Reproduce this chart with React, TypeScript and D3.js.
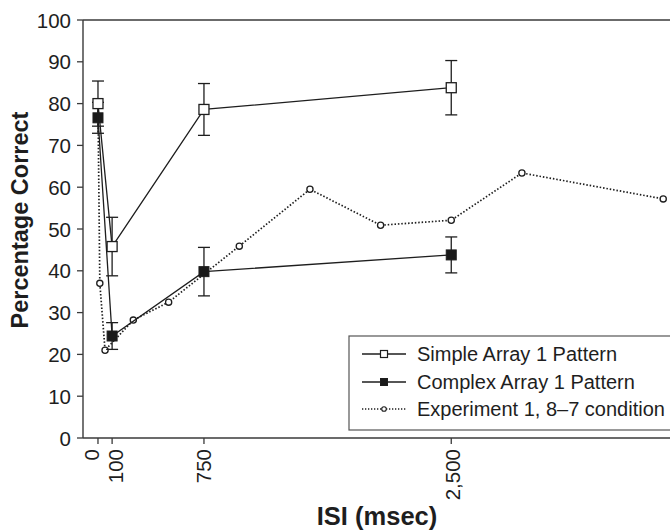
import React from "react";
import * as d3 from "d3";

const simpleISI = [0, 100, 750, 2500];
const simpleValues = [80.0, 45.8, 78.6, 83.8];
const simpleErrors = [5.4, 7.0, 6.2, 6.5];

const complexISI = [0, 100, 750, 2500];
const complexValues = [76.6, 24.4, 39.8, 43.8];
const complexErrors = [3.7, 3.2, 5.8, 4.3];

const exp1ISI = [0, 13, 50, 250, 500, 1000, 1500, 2000, 2500, 3000, 4000];
const exp1Values = [80, 37, 21, 28.2, 32.5, 45.9, 59.5, 50.9, 52.1, 63.4, 57.2];

const xTicks = [0, 100, 750, 2500];
const xTickLabels = ["0", "100", "750", "2,500"];
const yTicks = [0, 10, 20, 30, 40, 50, 60, 70, 80, 90, 100];

const legendLabels = [
  "Simple Array 1 Pattern",
  "Complex Array 1 Pattern",
  "Experiment 1, 8\u20137 condition",
];

const W = 670;
const H = 530;
const FONT = "'Liberation Sans', Arial, Helvetica, sans-serif";
const INK = "#1e1e1e";

export default function App() {
  const x = d3.scaleLinear().domain([-106, 4048]).range([83, 670]);
  const y = d3.scaleLinear().domain([0, 100]).range([438, 20]);
  const line = d3
    .line<[number, number]>()
    .x((d) => x(d[0]))
    .y((d) => y(d[1]));

  const simplePts = simpleISI.map((t, i) => [t, simpleValues[i]] as [number, number]);
  const complexPts = complexISI.map((t, i) => [t, complexValues[i]] as [number, number]);
  const exp1Pts = exp1ISI.map((t, i) => [t, exp1Values[i]] as [number, number]);

  const sq = 10;
  const cap = 6;
  const xLabelShift: Record<string, number> = { "0": -6, "100": 3, "750": 0, "2,500": 1 };

  const errBars = (isi: number[], vals: number[], errs: number[], key: string) =>
    isi.map((t, i) => {
      const cx = x(t);
      const y1 = y(vals[i] + errs[i]);
      const y2 = y(vals[i] - errs[i]);
      return (
        <g key={key + i} stroke={INK} strokeWidth={1.3}>
          <line x1={cx} x2={cx} y1={y1} y2={y2} />
          <line x1={cx - cap} x2={cx + cap} y1={y1} y2={y1} />
          <line x1={cx - cap} x2={cx + cap} y1={y2} y2={y2} />
        </g>
      );
    });

  const legX1 = 362;
  const legX2 = 406;
  const legMid = 384;
  const legRows = [354, 382, 409];

  return (
    <>
      <style>{`body{margin:0}`}</style>
      <svg width={W} height={H} style={{ display: "block", background: "#fff" }} fontFamily={FONT}>
        {/* frame */}
        <g stroke="#3a3a3a" strokeWidth={1.4} fill="none">
          <line x1={83} x2={83} y1={y(100)} y2={y(0)} />
          <line x1={83} x2={720} y1={y(100)} y2={y(100)} />
          <line x1={83} x2={720} y1={y(0)} y2={y(0)} />
        </g>

        {/* y axis ticks */}
        {yTicks.map((t) => (
          <g key={"yt" + t}>
            <line x1={77} x2={83} y1={y(t)} y2={y(t)} stroke="#3a3a3a" strokeWidth={1.3} />
            <text
              x={71}
              y={y(t)}
              textAnchor="end"
              dominantBaseline="central"
              fontSize={20.5}
              fill={INK}
            >
              {t}
            </text>
          </g>
        ))}

        {/* x axis ticks */}
        {xTicks.map((t, i) => (
          <g key={"xt" + t}>
            <line x1={x(t)} x2={x(t)} y1={y(0)} y2={y(0) + 6} stroke="#3a3a3a" strokeWidth={1.3} />
            <text
              transform={`translate(${x(t) + xLabelShift[xTickLabels[i]] + 7.5},449) rotate(-90)`}
              textAnchor="end"
              fontSize={20.5}
              fill={INK}
            >
              {xTickLabels[i]}
            </text>
          </g>
        ))}

        {/* axis titles */}
        <text
          transform={`translate(28,220) rotate(-90)`}
          textAnchor="middle"
          fontSize={23.5}
          fontWeight="bold"
          fill={INK}
        >
          Percentage Correct
        </text>
        <text x={377} y={525} textAnchor="middle" fontSize={25.5} fontWeight="bold" fill={INK}>
          ISI (msec)
        </text>

        {/* experiment 1 dotted line */}
        <path
          d={line(exp1Pts) || ""}
          fill="none"
          stroke={INK}
          strokeWidth={1.7}
          strokeDasharray="1.5 1.9"
        />
        {exp1Pts.map((p, i) => (
          <circle key={"e" + i} cx={x(p[0])} cy={y(p[1])} r={3.1} fill="#fff" stroke={INK} strokeWidth={1.3} />
        ))}

        {/* complex */}
        <path d={line(complexPts) || ""} fill="none" stroke={INK} strokeWidth={1.3} />
        {errBars(complexISI, complexValues, complexErrors, "ce")}
        {complexPts.map((p, i) => (
          <rect
            key={"c" + i}
            x={x(p[0]) - sq / 2}
            y={y(p[1]) - sq / 2}
            width={sq}
            height={sq}
            fill="#1a1a1a"
            stroke={INK}
            strokeWidth={1}
          />
        ))}

        {/* simple */}
        <path d={line(simplePts) || ""} fill="none" stroke={INK} strokeWidth={1.3} />
        {errBars(simpleISI, simpleValues, simpleErrors, "se")}
        {simplePts.map((p, i) => (
          <rect
            key={"s" + i}
            x={x(p[0]) - sq / 2}
            y={y(p[1]) - sq / 2}
            width={sq}
            height={sq}
            fill="#fff"
            stroke={INK}
            strokeWidth={1.3}
          />
        ))}

        {/* legend */}
        <rect x={349} y={336} width={360} height={94} fill="#fff" stroke="#555" strokeWidth={1.2} />
        <line x1={legX1} x2={legX2} y1={legRows[0]} y2={legRows[0]} stroke={INK} strokeWidth={1.3} />
        <rect x={legMid - 3.5} y={legRows[0] - 3.5} width={7} height={7} fill="#fff" stroke={INK} strokeWidth={1.2} />
        <line x1={legX1} x2={legX2} y1={legRows[1]} y2={legRows[1]} stroke={INK} strokeWidth={1.6} />
        <rect x={legMid - 3.5} y={legRows[1] - 3.5} width={7} height={7} fill="#1a1a1a" stroke={INK} strokeWidth={1} />
        <line
          x1={legX1}
          x2={legX2}
          y1={legRows[2]}
          y2={legRows[2]}
          stroke={INK}
          strokeWidth={1.4}
          strokeDasharray="1.3 1.7"
        />
        <circle cx={legMid} cy={legRows[2]} r={2.3} fill="#fff" stroke={INK} strokeWidth={1.1} />
        {legendLabels.map((l, i) => (
          <text key={"l" + i} x={417} y={legRows[i]} dominantBaseline="central" fontSize={20} fill={INK}>
            {l}
          </text>
        ))}
      </svg>
    </>
  );
}
